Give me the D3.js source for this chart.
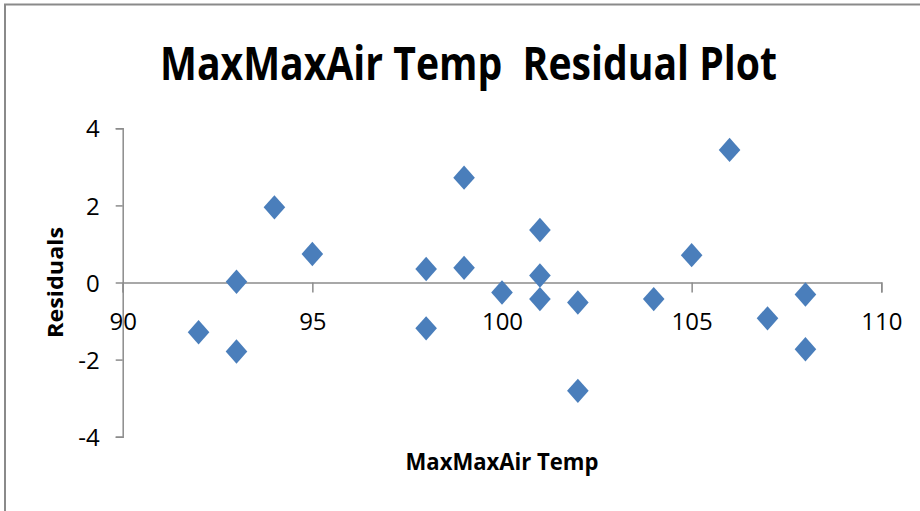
<!DOCTYPE html>
<html lang="en">
<head>
    <meta charset="UTF-8">
    <title>MaxMaxAir Temp Residual Plot</title>
    <script src="https://d3js.org/d3.v7.min.js"></script>
    <style>
        body { margin: 0; background: #fff; }
        text { font-family: "Open Sans", "Liberation Sans", sans-serif; }
    </style>
</head>
<body>
    <div id="chart"></div>
    <script>
        // data
        var maxTemp   = [92, 93, 93, 94, 95, 98, 98, 99, 99, 100, 101, 101, 101, 102, 102, 104, 105, 106, 107, 108, 108];
        var residuals = [-1.29, 0.02, -1.79, 1.95, 0.74, 0.35, -1.19, 2.72, 0.38, -0.26, 1.36, 0.18, -0.43, -0.52, -2.81, -0.43, 0.71, 3.44, -0.93, -0.31, -1.73];
        var xTicks = [90, 95, 100, 105, 110];
        var yTicks = [-4, -2, 0, 2, 4];

        var width = 920, height = 511;
        var plot = {left: 122.7, right: 881.3, top: 128.3, bottom: 436.7};

        var svg = d3.select("#chart")
            .append("svg")
            .attr("width", width)
            .attr("height", height);

        // chart frame (right / bottom edges run off the picture)
        svg.append("rect")
            .attr("x", 5).attr("y", 4.5)
            .attr("width", 1000).attr("height", 1000)
            .style("fill", "none")
            .style("stroke", "#8a8a8a")
            .style("stroke-width", 2);

        var x = d3.scaleLinear().domain([90, 110]).range([plot.left, plot.right]);
        var y = d3.scaleLinear().domain([-4, 4]).range([plot.bottom, plot.top]);

        var axisColor = "#8c8c8c";
        var plain = function(d){ return String(d); };   // keep the plain hyphen for negatives

        // x axis crosses at y = 0
        var gx = svg.append("g")
            .attr("transform", "translate(0," + y(0) + ")")
            .call(d3.axisBottom(x).tickValues(xTicks).tickFormat(plain).tickSize(10).tickSizeOuter(10));
        gx.selectAll("text")
            .attr("y", 47)
            .attr("dy", null)
            .attr("font-size", "24px")
            .attr("fill", "#000");

        var gy = svg.append("g")
            .attr("transform", "translate(" + x(90) + ",0)")
            .call(d3.axisLeft(y).tickValues(yTicks).tickFormat(plain).tickSize(7).tickSizeOuter(7).tickPadding(16));
        gy.selectAll("text")
            .attr("dy", "0.36em")
            .attr("font-size", "24px")
            .attr("fill", "#000");

        svg.selectAll(".domain, .tick line")
            .style("stroke", axisColor)
            .style("stroke-width", 1.5);
        svg.selectAll(".tick text").style("font-family", "'Open Sans', sans-serif");

        // diamonds, a bit taller than wide like the reference
        var diamond = {
            draw: function(ctx, size) {
                var w = 10.8, h = 12.2;
                ctx.moveTo(0, -h);
                ctx.lineTo(w, 0);
                ctx.lineTo(0, h);
                ctx.lineTo(-w, 0);
                ctx.closePath();
            }
        };

        svg.append("g")
            .selectAll("path")
            .data(d3.range(maxTemp.length))
            .enter()
            .append("path")
            .attr("transform", function(i){ return "translate(" + x(maxTemp[i]) + "," + y(residuals[i]) + ")"; })
            .attr("d", d3.symbol().type(diamond))
            .style("fill", "#4a7ebb");

        // titles
        svg.append("text")
            .attr("x", 468.5)
            .attr("y", 80)
            .attr("text-anchor", "middle")
            .attr("font-size", "46px")
            .attr("font-weight", "bold")
            .attr("textLength", 617)
            .attr("lengthAdjust", "spacingAndGlyphs")
            .style("white-space", "pre")
            .text("MaxMaxAir Temp  Residual Plot");

        svg.append("text")
            .attr("x", (plot.left + plot.right) / 2)
            .attr("y", 470)
            .attr("text-anchor", "middle")
            .attr("font-size", "23px")
            .attr("font-weight", "bold")
            .attr("textLength", 193)
            .attr("lengthAdjust", "spacingAndGlyphs")
            .text("MaxMaxAir Temp");

        svg.append("text")
            .attr("transform", "translate(63," + y(0) + ") rotate(-90)")
            .attr("text-anchor", "middle")
            .attr("font-size", "22px")
            .attr("font-weight", "bold")
            .attr("textLength", 111)
            .attr("lengthAdjust", "spacingAndGlyphs")
            .text("Residuals");
    </script>
</body>
</html>
